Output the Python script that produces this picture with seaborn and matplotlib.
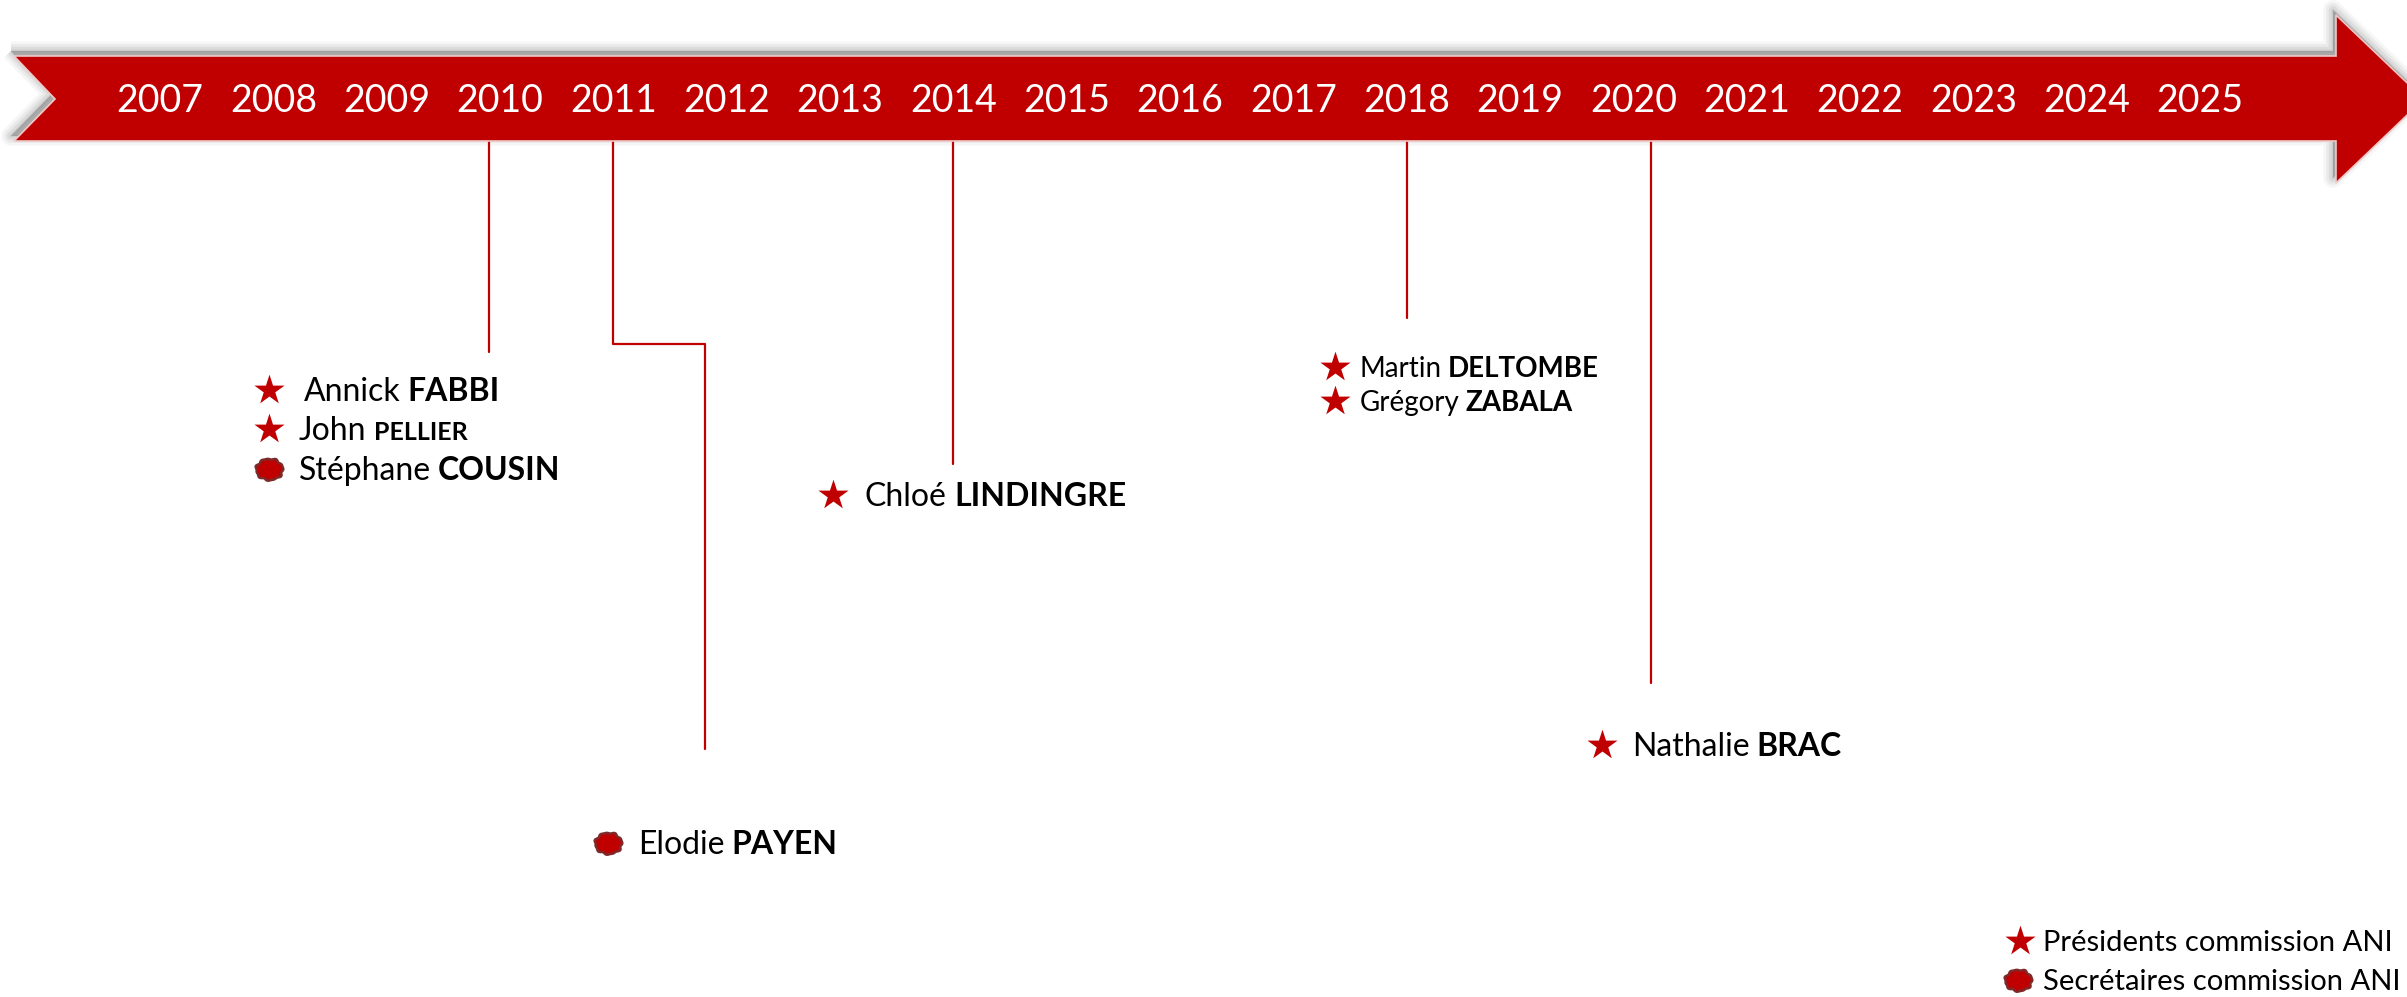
import matplotlib
matplotlib.use("Agg")
import matplotlib.pyplot as plt
import numpy as np
import pandas as pd
import seaborn as sns
from matplotlib.patches import Polygon
from matplotlib.path import Path

# --- data ---
year_labels = ["2007", "2008", "2009", "2010", "2011", "2012", "2013", "2014", "2015",
               "2016", "2017", "2018", "2019", "2020", "2021", "2022", "2023", "2024", "2025"]
year_values = [2007, 2008, 2009, 2010, 2011, 2012, 2013, 2014, 2015,
               2016, 2017, 2018, 2019, 2020, 2021, 2022, 2023, 2024, 2025]

first_names = ["Annick", "John", "Stéphane", "Elodie", "Chloé", "Martin", "Grégory", "Nathalie"]
last_names = ["FABBI", "PELLIER", "COUSIN", "PAYEN", "LINDINGRE", "DELTOMBE", "ZABALA", "BRAC"]
roles = ["Président", "Président", "Secrétaire", "Secrétaire",
         "Président", "Président", "Président", "Président"]
start_years = [2010, 2010, 2010, 2011, 2014, 2018, 2018, 2020]

legend_roles = ["Président", "Secrétaire"]
legend_labels = ["Présidents commission ANI", "Secrétaires commission ANI"]

# --- layout, in pixels of the 2407x997 canvas ---
W, H = 2407, 997
X0_PX, YEAR_PX = 160, 113.33
RED = "#C00000"


def px_to_year(px):
    return 2007 + (px - X0_PX) / YEAR_PX


BAND_TOP, BAND_BOTTOM, BAND_MID = 56, 141, 99
drop_depth = {2010: 352, 2011: 344, 2014: 464, 2018: 318, 2020: 683}
drop_nudge = {2010: -0.1, 2020: 0.16}  # lines sit a little off the label centres
jog = {2011: (0.81, 749)}  # (years to the right, final depth)

# marker centre, text start, font size of first name / surname
label_layout = [
    (269, 390, 304, 23, 23),
    (269, 429, 299, 23, 18),
    (269, 469, 299, 23, 23),
    (608, 843, 638, 23, 23),
    (833, 495, 865, 23, 23),
    (1335, 367, 1360, 20, 20),
    (1335, 401, 1360, 20, 20),
    (1602, 745, 1632, 23, 23),
]
legend_layout = [(2020, 941, 2043, 21), (2018, 980, 2043, 21)]

sns.set_theme(style="white")
plt.rcParams["font.family"] = ["Lato", "DejaVu Sans"]

fig = plt.figure(figsize=(W / 100, H / 100), dpi=100)
ax = fig.add_axes([0, 0, 1, 1])
ax.set_xlim(px_to_year(0), px_to_year(W))
ax.set_ylim(H, 0)
ax.axis("off")

# --- arrow band with a soft shadow ---
band_px = [(14, BAND_TOP), (2336, BAND_TOP), (2336, 15), (2424, BAND_MID), (2336, 183),
           (2336, BAND_BOTTOM), (14, BAND_BOTTOM), (55, BAND_MID)]


def band_poly(dx=0, dy=0, **kw):
    pts = [(px_to_year(x + dx), y + dy) for x, y in band_px]
    return Polygon(pts, closed=True, **kw)


for lw, a in [(14, 0.05), (10, 0.07), (6, 0.09), (2, 0.12)]:
    ax.add_patch(band_poly(-3, -5, facecolor="none", edgecolor="#555555",
                           linewidth=lw, alpha=a, joinstyle="round"))
ax.add_patch(band_poly(-3, -5, facecolor="#777777", edgecolor="none", alpha=0.5))
ax.add_patch(band_poly(facecolor=RED, edgecolor="#f0c8c8", linewidth=1.2, zorder=3))

for lab, yr in zip(year_labels, year_values):
    fs = 27
    ax.text(yr, BAND_MID + 0.7165 * fs * 100 / 72 / 2, lab, color="white",
            fontsize=fs, ha="center", va="baseline", zorder=4)

# --- connector lines ---
rows = []
for seg, yr in enumerate(drop_depth):
    x0 = yr + drop_nudge.get(yr, 0)
    pts = [(x0, BAND_BOTTOM), (x0, drop_depth[yr])]
    if yr in jog:
        dx, depth = jog[yr]
        pts += [(x0 + dx, drop_depth[yr]), (x0 + dx, depth)]
    for order, (x, y) in enumerate(pts):
        rows.append({"x": x, "y": y, "seg": seg, "order": order})
lines = pd.DataFrame(rows)
sns.lineplot(data=lines, x="x", y="y", units="seg", estimator=None, sort=False,
             color=RED, linewidth=1.6, ax=ax, legend=False)
ax.set_xlim(px_to_year(0), px_to_year(W))
ax.set_ylim(H, 0)

# --- markers ---
theta = np.linspace(0, 2 * np.pi, 60)
r = 1 + 0.05 * np.sin(7 * theta) + 0.04 * np.cos(11 * theta + 0.5)
blob = Path(np.column_stack([r * np.cos(theta), 0.8 * r * np.sin(theta)]), closed=True)

marks = pd.DataFrame({
    "x": [px_to_year(l[0]) for l in label_layout] + [px_to_year(l[0]) for l in legend_layout],
    "y": [l[1] for l in label_layout] + [l[1] for l in legend_layout],
    "role": roles + legend_roles,
})
sns.scatterplot(data=marks[marks.role == "Président"], x="x", y="y", marker="*",
                s=520, color=RED, linewidth=0, ax=ax, legend=False, zorder=5)
sns.scatterplot(data=marks[marks.role == "Secrétaire"], x="x", y="y", marker=blob,
                s=400, color=RED, edgecolor="#7d2a2a", linewidth=1.8, ax=ax,
                legend=False, zorder=5)

# --- names ---
fig.canvas.draw()
renderer = fig.canvas.get_renderer()


def baseline(cy, fs):
    return cy + 0.7165 * fs * 100 / 72 / 2


for (mx, my, tx, fs1, fs2), first, last in zip(label_layout, first_names, last_names):
    t = ax.text(px_to_year(tx), baseline(my, fs1), first, fontsize=fs1,
                color="black", va="baseline", ha="left")
    bb = t.get_window_extent(renderer)
    ax.text(px_to_year(bb.x1 + 0.22 * fs1 * 100 / 72), baseline(my, fs1), last,
            fontsize=fs2, fontweight="bold", color="black", va="baseline", ha="left")

for (mx, my, tx, fs), lab in zip(legend_layout, legend_labels):
    ax.text(px_to_year(tx), baseline(my, fs), lab, fontsize=fs, color="black",
            va="baseline", ha="left")

fig.savefig("out.png", dpi=100, facecolor="white")
